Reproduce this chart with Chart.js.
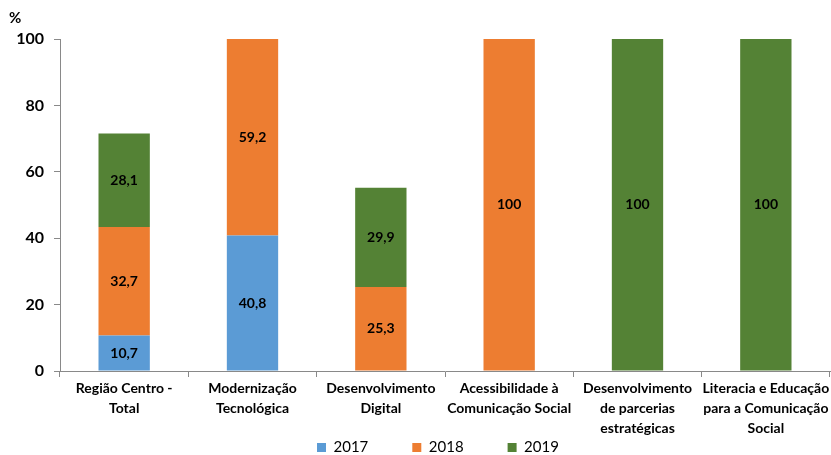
<!DOCTYPE html>
<html>
<head>
<meta charset="utf-8">
<script src="https://cdn.jsdelivr.net/npm/chart.js@4"></script>
<style>
  html, body { margin: 0; padding: 0; background: #fff; }
  #wrap { width: 831px; height: 455px; }
</style>
</head>
<body>
<div id="wrap"><canvas id="chart" width="831" height="455"></canvas></div>
<script>
// Categories and values
const categories = [
    ['Região Centro -', 'Total'],
    ['Modernização', 'Tecnológica'],
    ['Desenvolvimento', 'Digital'],
    ['Acessibilidade à', 'Comunicação Social'],
    ['Desenvolvimento', 'de parcerias', 'estratégicas'],
    ['Literacia e Educação', 'para a Comunicação', 'Social']
];
const values2017 = [10.7, 40.8, null, null, null, null];
const values2018 = [32.7, 59.2, 25.3, 100, null, null];
const values2019 = [28.1, null, 29.9, null, 100, 100];
const yTicks = [0, 20, 40, 60, 80, 100];

const fontFamily = 'Lato, "Open Sans", sans-serif';
const legendPadding = 44;

// Value labels inside the bars, the "%" unit label, and legend placement
const barLabels = {
    id: 'barLabels',
    beforeLayout(chart) {
        const lg = chart.legend;
        if (lg && !lg._patched) {
            const origFit = lg.fit.bind(lg);
            lg.fit = function () { origFit(); this.height = 0; };
            lg._patched = true;
        }
    },
    afterLayout(chart) {
        const lg = chart.legend;
        if (!lg) return;
        lg.left = 317 - legendPadding;
        lg.top = 448 - legendPadding - 8;
        lg.bottom = chart.height;
    },
    afterDatasetsDraw(chart) {
        const c = chart.ctx;
        c.save();
        c.fillStyle = '#000';
        c.font = 'bold 14px ' + fontFamily;
        c.textAlign = 'center';
        c.textBaseline = 'middle';
        chart.data.datasets.forEach((ds, i) => {
            chart.getDatasetMeta(i).data.forEach((bar, j) => {
                const v = ds.data[j];
                if (v == null) return;
                const y = (bar.y + bar.base) / 2;
                c.fillText(String(v).replace('.', ','), bar.x, y);
            });
        });
        c.font = 'bold 15px ' + fontFamily;
        c.textAlign = 'left';
        c.fillText('%', 9, 18);
        c.restore();
    }
};

const ctx = document.getElementById('chart').getContext('2d');
const chart = new Chart(ctx, {
    type: 'bar',
    data: {
        labels: categories,
        datasets: [
            { label: '2017', data: values2017, backgroundColor: '#5B9BD5' },
            { label: '2018', data: values2018, backgroundColor: '#ED7D31' },
            { label: '2019', data: values2019, backgroundColor: '#548235' }
        ]
    },
    options: {
        responsive: false,
        animation: false,
        layout: { padding: { top: 39, right: 1, left: 10, bottom: 0 } },
        datasets: {
            bar: { categoryPercentage: 0.4, barPercentage: 1 }
        },
        scales: {
            x: {
                stacked: true,
                afterFit(scale) { scale.height = 84; },
                border: { color: '#898989' },
                grid: { drawOnChartArea: false, tickLength: 6, color: '#898989', offset: true },
                ticks: {
                    color: '#000',
                    maxRotation: 0,
                    autoSkip: false,
                    padding: 1,
                    font: { family: fontFamily, size: 14, weight: 'bold', lineHeight: 20 / 14 }
                }
            },
            y: {
                stacked: true,
                min: 0,
                max: 100,
                afterFit(scale) { scale.width = 50; },
                afterBuildTicks(scale) { scale.ticks = yTicks.map(v => ({ value: v })); },
                border: { color: '#898989' },
                grid: { drawOnChartArea: false, tickLength: 6, color: '#898989' },
                ticks: {
                    color: '#000',
                    padding: 10,
                    font: { family: fontFamily, size: 16, weight: 'bold' }
                }
            }
        },
        plugins: {
            legend: {
                position: 'bottom',
                align: 'start',
                labels: {
                    boxWidth: 9,
                    boxHeight: 9,
                    padding: legendPadding,
                    color: '#000',
                    font: { family: fontFamily, size: 15 }
                }
            },
            tooltip: { enabled: false }
        }
    },
    plugins: [barLabels]
});
</script>
</body>
</html>
